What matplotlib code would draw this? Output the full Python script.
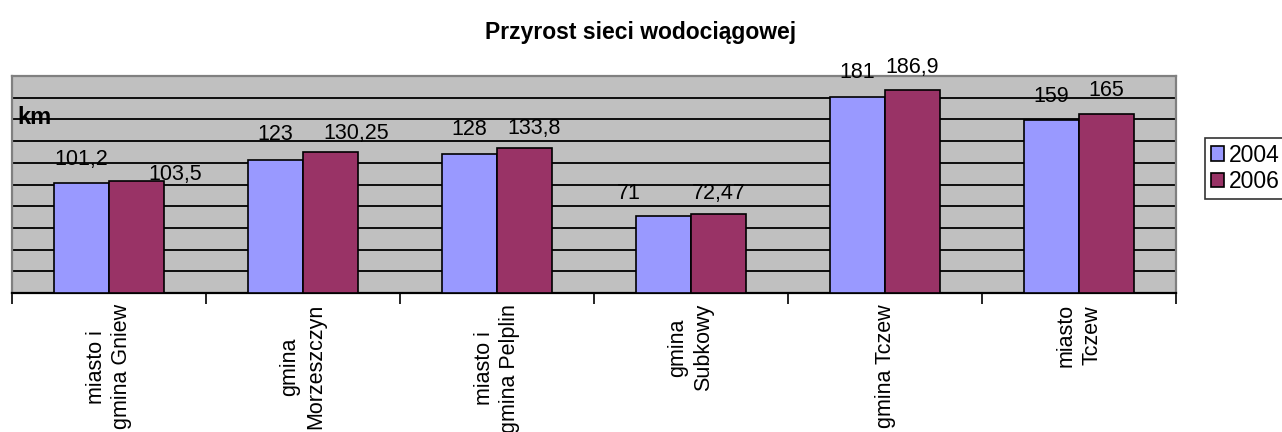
import matplotlib.pyplot as plt
import numpy as np

plt.rcParams['font.family'] = ['Liberation Sans', 'DejaVu Sans']

# data
categories = ['miasto i\ngmina Gniew', 'gmina\nMorzeszczyn', 'miasto i\ngmina Pelplin',
              'gmina\nSubkowy', 'gmina Tczew', 'miasto\nTczew']
years = ['2004', '2006']
values_2004 = [101.2, 123, 128, 71, 181, 159]
values_2006 = [103.5, 130.25, 133.8, 72.47, 186.9, 165]
labels_2004 = ['101,2', '123', '128', '71', '181', '159']
labels_2006 = ['103,5', '130,25', '133,8', '72,47', '186,9', '165']

# where the data labels sit (shift in x units, lift in km above the bar top)
label_dx_2004 = [0, 0, 0, -0.18, 0, 0]
label_dy_2004 = [21.4, 23.5, 23, 21, 22, 22]
label_dx_2006 = [0.20, 0.13, 0.05, 0, 0, 0]
label_dy_2006 = [5.3, 17, 18, 19.5, 21, 22]

colors = ['#9999FF', '#993366']

fig = plt.figure(figsize=(12.82, 4.32), dpi=100)
ax = fig.add_axes([12 / 1282, 1 - 293 / 432, 1164 / 1282, 217 / 432])
ax.set_facecolor('#C0C0C0')

x = np.arange(len(categories))
w = 0.284
b1 = ax.bar(x - w / 2, values_2004, w, color=colors[0], edgecolor='black',
            linewidth=1.2, label=years[0], zorder=3)
b2 = ax.bar(x + w / 2, values_2006, w, color=colors[1], edgecolor='black',
            linewidth=1.2, label=years[1], zorder=3)

for i in range(len(categories)):
    ax.text(x[i] - w / 2 + label_dx_2004[i], values_2004[i] + label_dy_2004[i],
            labels_2004[i], ha='center', va='center', fontsize=15.5, zorder=4)
    ax.text(x[i] + w / 2 + label_dx_2006[i], values_2006[i] + label_dy_2006[i],
            labels_2006[i], ha='center', va='center', fontsize=15.5, zorder=4)

ax.set_xlim(-0.5, len(categories) - 0.5)
ax.set_ylim(0, 200)

# gridlines every 20 km
for g in range(20, 200, 20):
    ax.axhline(g, color='black', linewidth=1.3, zorder=1)

# ticks at category boundaries, labels at centres
ax.set_xticks(np.arange(-0.5, len(categories), 1.0))
ax.set_xticklabels([])
ax.tick_params(axis='x', which='major', length=8, width=1.2, color='black', direction='out')
ax.set_xticks(x, minor=True)
ax.set_xticklabels(categories, minor=True, rotation=90, fontsize=15.5, va='top',
                   ha='center', linespacing=1.3)
ax.tick_params(axis='x', which='minor', length=0, pad=8)
ax.set_yticks([])

for s in ['top', 'left', 'right']:
    ax.spines[s].set_color('#808080')
    ax.spines[s].set_linewidth(1.6)
ax.spines['bottom'].set_color('black')
ax.spines['bottom'].set_linewidth(1.6)

ax.text(0.005, (293 - 117) / 217, 'km', transform=ax.transAxes, fontsize=17,
        fontweight='bold', ha='left', va='center', zorder=5)

fig.text(0.5, 1 - 32 / 432, 'Przyrost sieci wodociągowej', ha='center', va='center',
         fontsize=16.5, fontweight='bold')

leg = fig.legend(handles=[b1, b2], labels=years, loc='upper left',
                 bbox_to_anchor=(1205 / 1282, 1 - 138 / 432), fontsize=16.5,
                 frameon=True, fancybox=False, edgecolor='black',
                 handlelength=0.6, handleheight=0.6, handletextpad=0.2,
                 borderpad=0.25, labelspacing=0.15, borderaxespad=0)
leg.get_frame().set_linewidth(1.2)

fig.savefig('out.png', dpi=100)
